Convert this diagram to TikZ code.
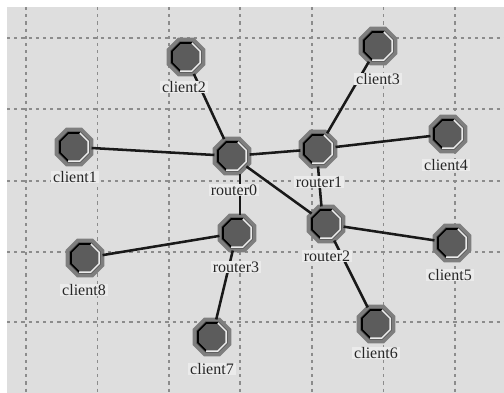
\documentclass[tikz,border=0pt]{standalone}
\usepackage{fontspec}
\setmainfont{Liberation Serif}
\usetikzlibrary{shapes.geometric}
\definecolor{bgc}{HTML}{DEDEDE}
\definecolor{rimc}{HTML}{7E7E7E}
\definecolor{corec}{HTML}{5C5C5C}
\definecolor{gridc}{HTML}{8C8C8C}
\definecolor{tagc}{HTML}{EBEBEB}
\tikzset{
  octa/.style={regular polygon,regular polygon sides=8,minimum size=28.5pt,inner sep=0pt,outer sep=0pt,fill=corec,draw=rimc,line width=2.6pt},
  tag/.style={fill=tagc,inner xsep=1.5pt,inner ysep=0.5pt,font=\fontsize{12}{12}\selectfont,text=black!85},
  link/.style={line width=1.9pt,black!90},
  gridl/.style={gridc,line width=0.9pt,dash pattern=on 2.4pt off 3pt},
  shade1/.style={line width=1.2pt,black},
  shade2/.style={line width=1.1pt,white!92!black}
}
\newcommand{\icon}[3]{%
  \node[octa] (#1) at (#2,#3) {};
}
\newcommand{\bevel}[1]{%
  \draw[shade1,shift={(#1.center)}] (67.5:11.4pt) -- (112.5:11.4pt) -- (157.5:11.4pt) -- (202.5:11.4pt) -- (247.5:11.4pt);
  \draw[shade2,shift={(#1.center)}] (247.5:11.4pt) -- (292.5:11.4pt) -- (337.5:11.4pt) -- (22.5:11.4pt) -- (67.5:11.4pt);
}
\newcommand{\tagat}[4]{\node[tag] (#1) at (#2,#3) {#4};}
\begin{document}
\begin{tikzpicture}[x=0.75pt,y=-0.75pt]
\useasboundingbox (0,0) rectangle (504,393);
\fill[white] (0,0) rectangle (504,393);
\fill[bgc] (7,7) rectangle (504,393);
\foreach \gx in {26,97.5,169,240,312,383.5,455} \draw[gridl] (\gx,7) -- (\gx,393);
\foreach \gy in {38,109,181,252,322} \draw[gridl] (7,\gy) -- (504,\gy);
\icon{c1}{74}{147}
\icon{c2}{186}{57}
\icon{c3}{378}{46}
\icon{c4}{448}{134}
\icon{c5}{452}{243}
\icon{c6}{376}{324}
\icon{c7}{212}{337}
\icon{c8}{85}{258}
\icon{r0}{232}{156}
\icon{r1}{318}{149}
\icon{r2}{326}{224}
\icon{r3}{237}{233}
\foreach \n in {c1,c2,c3,c4,c5,c6,c7,c8,r0,r1,r2,r3} {\bevel{\n}}
\draw[link] (c1) -- (r0);
\draw[link] (c2) -- (r0);
\draw[link] (c3) -- (r1);
\draw[link] (c4) -- (r1);
\draw[link] (r0) -- (r1);
\draw[link] (r0) -- (r2);
\draw[link] ([xshift=6pt]r0.south) -- ([xshift=2.25pt]r3.north);
\draw[link] (r1.south) -- ([xshift=-3.4pt]r2.north);
\draw[link] (r2) -- (c5);
\draw[link] (r2) -- (c6);
\draw[link] (r3) -- (c8);
\draw[link] (r3) -- (c7);
\tagat{t1}{75}{177}{client1}
\tagat{t2}{184}{87}{client2}
\tagat{t3}{378}{79}{client3}
\tagat{t4}{446}{165}{client4}
\tagat{t5}{450}{275}{client5}
\tagat{t6}{376}{353}{client6}
\tagat{t7}{212}{369}{client7}
\tagat{t8}{84}{290}{client8}
\tagat{t9}{234}{190}{router0}
\tagat{t10}{319}{182}{router1}
\tagat{t11}{327}{256}{router2}
\tagat{t12}{236}{267}{router3}
\end{tikzpicture}
\end{document}
